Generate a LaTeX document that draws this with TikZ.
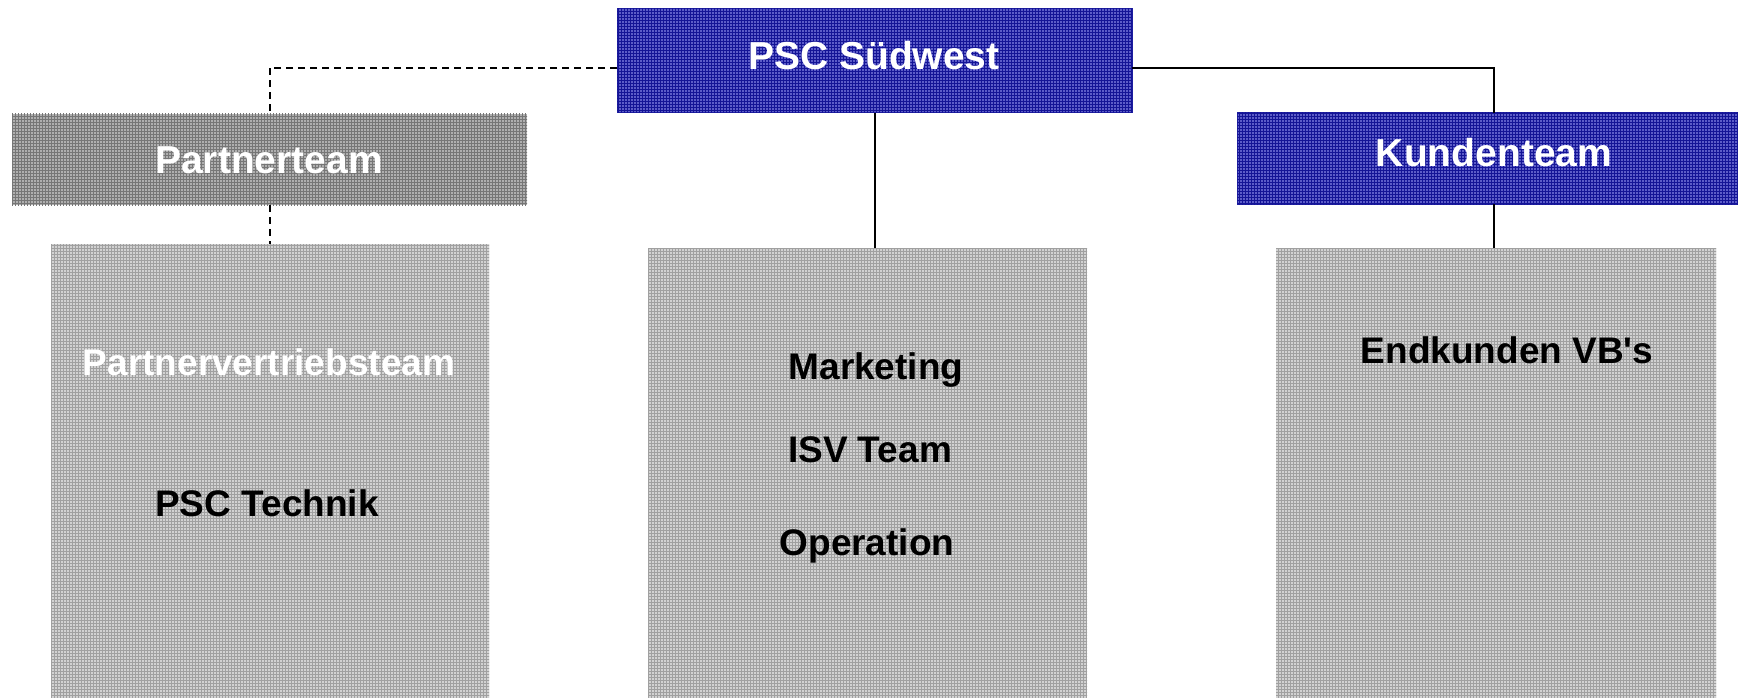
\documentclass[tikz,border=0pt]{standalone}
\usepackage{fontspec}
\setmainfont{Liberation Sans}[Ligatures=TeXOff]
\usetikzlibrary{patterns}
\definecolor{blueBase}{RGB}{92,92,200}
\definecolor{blueLine}{RGB}{20,20,150}
\definecolor{blueEdge}{RGB}{30,30,160}
\definecolor{greyHeadBase}{RGB}{175,175,175}
\definecolor{greyHeadLine}{RGB}{118,118,118}
\definecolor{greyBoxBase}{RGB}{210,210,210}
\definecolor{greyBoxLine}{RGB}{160,160,160}
\begin{document}
\begin{tikzpicture}[x=1pt,y=-1pt,
  unit/.style={rectangle, inner sep=0pt, outer sep=0pt},
  headblue/.style={unit, fill=blueBase, draw=blueEdge, line width=1pt,
    postaction={pattern=grid, pattern color=blueLine}},
  headgrey/.style={unit, fill=greyHeadBase,
    postaction={pattern=grid, pattern color=greyHeadLine}},
  groupbox/.style={unit, fill=greyBoxBase,
    postaction={pattern=grid, pattern color=greyBoxLine}},
  headtext/.style={anchor=base, text=white, font=\fontsize{39}{44}\selectfont\bfseries},
  bodytext/.style={anchor=base, text=black, font=\fontsize{37}{42}\selectfont\bfseries},
  link/.style={line width=2pt, draw=black},
  dashlink/.style={link, dash pattern=on 7pt off 5pt}]
\useasboundingbox (0,0) rectangle (1738,698);
\clip (0,0) rectangle (1738,698);

% group boxes (running off the bottom edge)
\node[groupbox, minimum width=438pt, minimum height=480pt, anchor=north west] (lbox) at (51,244) {};
\node[groupbox, minimum width=439pt, minimum height=480pt, anchor=north west] (mbox) at (648,248) {};
\node[groupbox, minimum width=440pt, minimum height=480pt, anchor=north west] (rbox) at (1276,248) {};

% header boxes
\node[headblue, minimum width=515pt, minimum height=104pt, anchor=north west] (psc) at (617,9) {};
\node[headgrey, minimum width=515pt, minimum height=91pt, anchor=north west] (pteam) at (12,114) {};
\node[headblue, minimum width=514pt, minimum height=91pt, anchor=north west] (kteam) at (1237,113) {};

% connectors (the horizontal runs sit a little below the box centre)
\draw[dashlink] ([yshift=-7pt]psc.west) -| (pteam.north);
\draw[dashlink] (pteam.south) -- (pteam.south |- lbox.north);
\draw[link] (psc.south) -- (psc.south |- mbox.north);
\draw[link] ([yshift=-7pt]psc.east) -| (kteam.north);
\draw[link] (kteam.south) -- (kteam.south |- rbox.north);

% header labels
\node[headtext] (pscT) at (874,70) {PSC Südwest};
\node[headtext] (pteamT) at (269,173) {Partnerteam};
\node[headtext] (kteamT) at (1494,167) {Kundenteam};

% box contents
\node[bodytext, text=white] (pvt) at (269,375) {Partnervertriebsteam};
\node[bodytext] (tech) at (267,516) {PSC Technik};
\node[bodytext] (mkt) at (876,379) {Marketing};
\node[bodytext] (isv) at (870,462) {ISV Team};
\node[bodytext] (ops) at (867,555) {Operation};
\node[bodytext] (vbs) at (1507,363) {Endkunden VB's};
\end{tikzpicture}
\end{document}
